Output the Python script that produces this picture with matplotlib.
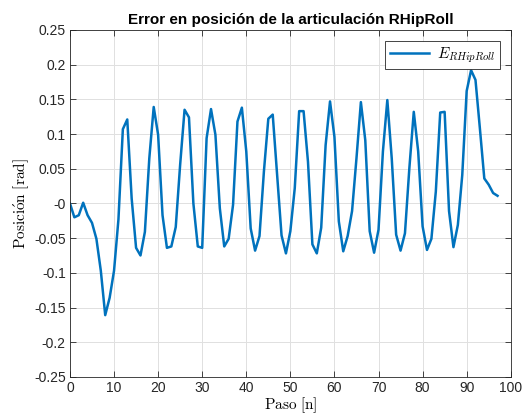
import numpy as np
import matplotlib
matplotlib.use('Agg')
import matplotlib.pyplot as plt

plt.rcParams['font.family'] = ['Liberation Sans', 'DejaVu Sans']
plt.rcParams['mathtext.fontset'] = 'cm'

# error trace (step index 0..97)
paso = np.arange(0, 98)
error = [
    0.000, -0.020, -0.017, 0.001, -0.017, -0.028, -0.051, -0.097, -0.161, -0.136,
    -0.097, -0.023, 0.107, 0.121, 0.007, -0.064, -0.075, -0.041, 0.065, 0.139,
    0.099, -0.017, -0.064, -0.062, -0.034, 0.056, 0.135, 0.124, 0.000, -0.062,
    -0.064, 0.094, 0.136, 0.099, -0.007, -0.062, -0.051, -0.002, 0.118, 0.138,
    0.075, -0.036, -0.068, -0.047, 0.046, 0.122, 0.128, 0.041, -0.046, -0.072,
    -0.040, 0.022, 0.133, 0.133, 0.060, -0.059, -0.072, -0.035, 0.084, 0.147,
    0.096, -0.026, -0.069, -0.047, -0.011, 0.065, 0.146, 0.091, -0.040, -0.071,
    -0.038, 0.075, 0.149, 0.065, -0.045, -0.068, -0.043, 0.051, 0.132, 0.075,
    -0.033, -0.067, -0.051, 0.017, 0.131, 0.132, -0.011, -0.063, -0.031, 0.041,
    0.162, 0.192, 0.178, 0.108, 0.036, 0.027, 0.015, 0.011,
]

xticks = np.arange(0, 101, 10)
yticks = np.arange(-0.25, 0.2501, 0.05)

fig = plt.figure(figsize=(5.26, 4.16), dpi=100)
ax = fig.add_axes([0.133, 0.094, 0.838, 0.834])

ax.plot(paso, error, color='#0072BD', linewidth=1.8, label=r'$E_{RHipRoll}$')

ax.set_xlim(0, 100)
ax.set_ylim(-0.25, 0.25)
ax.set_xticks(xticks)
ax.set_yticks(yticks)
ax.set_xticklabels([str(t) for t in xticks])
ax.set_yticklabels(['%g' % round(t, 2) for t in yticks])
ax.tick_params(direction='in', top=True, right=True, labelsize=10,
               length=4, width=0.6, colors='#262626', pad=3)
ax.grid(True, color='#e0e0e0', linewidth=0.7)
for s in ax.spines.values():
    s.set_color('#262626')
    s.set_linewidth(0.6)

ax.set_title('Error en posición de la articulación RHipRoll',
             fontsize=11, fontweight='bold', pad=4)
ax.set_xlabel(r'$\mathrm{Paso\ [n]}$', fontsize=11, labelpad=0)
ax.set_ylabel(r'$\mathrm{Posici\acute{o}n\ [rad]}$', fontsize=11, labelpad=2)

leg = ax.legend(loc='upper right', fontsize=11, fancybox=False,
                framealpha=1, borderpad=0.3, handlelength=2.6,
                handletextpad=0.5, borderaxespad=0.7)
leg.get_frame().set_edgecolor('#262626')
leg.get_frame().set_linewidth(0.6)

fig.savefig('out.png', dpi=100)
